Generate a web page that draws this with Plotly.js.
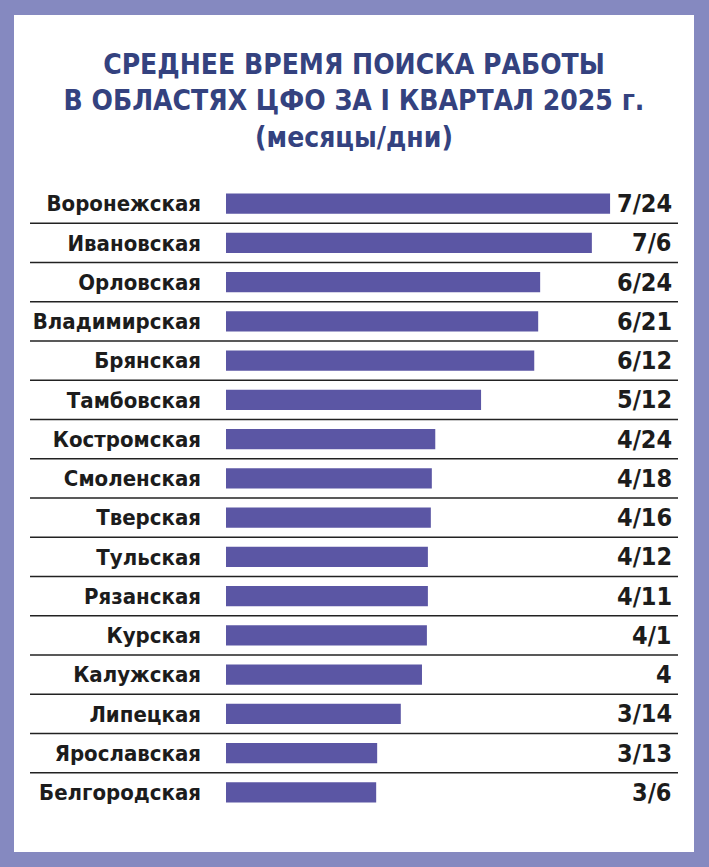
<!DOCTYPE html>
<html><head><meta charset="utf-8">
<script src="https://cdn.plot.ly/plotly-3.0.1.min.js"></script>
<style>
html,body{margin:0;padding:0;background:#8589c0;width:709px;height:867px;overflow:hidden;}
#chart{position:absolute;left:14px;top:15px;width:680px;height:837px;background:#fff;}
</style></head><body>
<div id="chart"></div>
<script>
const regions = ["Воронежская","Ивановская","Орловская","Владимирская","Брянская","Тамбовская","Костромская","Смоленская","Тверская","Тульская","Рязанская","Курская","Калужская","Липецкая","Ярославская","Белгородская"];
const labels = ["7/24","7/6","6/24","6/21","6/12","5/12","4/24","4/18","4/16","4/12","4/11","4/1","4","3/14","3/13","3/6"];
const barLengths = [7.8,7.43,6.38,6.34,6.26,5.18,4.25,4.18,4.16,4.10,4.10,4.08,3.98,3.55,3.07,3.05];

const FONT = "'Liberation Sans Narrow','DejaVu Sans Condensed','Arial Narrow',sans-serif";

const trace = {
  type:'bar', orientation:'h', y: regions, x: barLengths,
  marker:{color:'#5b56a4'}, hoverinfo:'skip'
};

const annotations = labels.map((t,i)=>({
  xref:'paper', yref:'y', x:0.987, y:regions[i], text:'<b>'+t+'</b>',
  xanchor:'right', yanchor:'middle', showarrow:false,
  font:{family:FONT, size:25, color:'#1c1c1c'}
}));

const shapes = [];
for(let i=0;i<regions.length-1;i++){
  shapes.push({type:'line', xref:'paper', yref:'y', x0:-0.4317, x1:0.9956, y0:i+0.5, y1:i+0.5,
    line:{color:'#222', width:1.5}});
}

const layout = {
  width:680, height:837,
  margin:{l:212, r:14, t:169.4, b:40.4},
  paper_bgcolor:'#ffffff', plot_bgcolor:'#ffffff',
  title:{text:'<b>СРЕДНЕЕ ВРЕМЯ ПОИСКА РАБОТЫ<br>В ОБЛАСТЯХ ЦФО ЗА I КВАРТАЛ 2025 г.<br>(месяцы/дни)</b>',
    x:0.5, xanchor:'center', y:1-59/837, yanchor:'top',
    font:{family:FONT, size:28, color:'#34427f'}},
  xaxis:{range:[0,9.22], visible:false, fixedrange:true},
  yaxis:{type:'category', range:[15.5,-0.5], showgrid:false, zeroline:false, showline:false,
    ticks:'', ticklabelstandoff:24,
    tickfont:{family:FONT, size:22, color:'#1c1c1c'},
    tickvals: regions, ticktext: regions.map(r=>'<b>'+r+'</b>')},
  bargap:0.49,
  showlegend:false,
  annotations: annotations,
  shapes: shapes
};

Plotly.newPlot('chart',[trace],layout,{displayModeBar:false, staticPlot:true});
</script>
</body></html>
